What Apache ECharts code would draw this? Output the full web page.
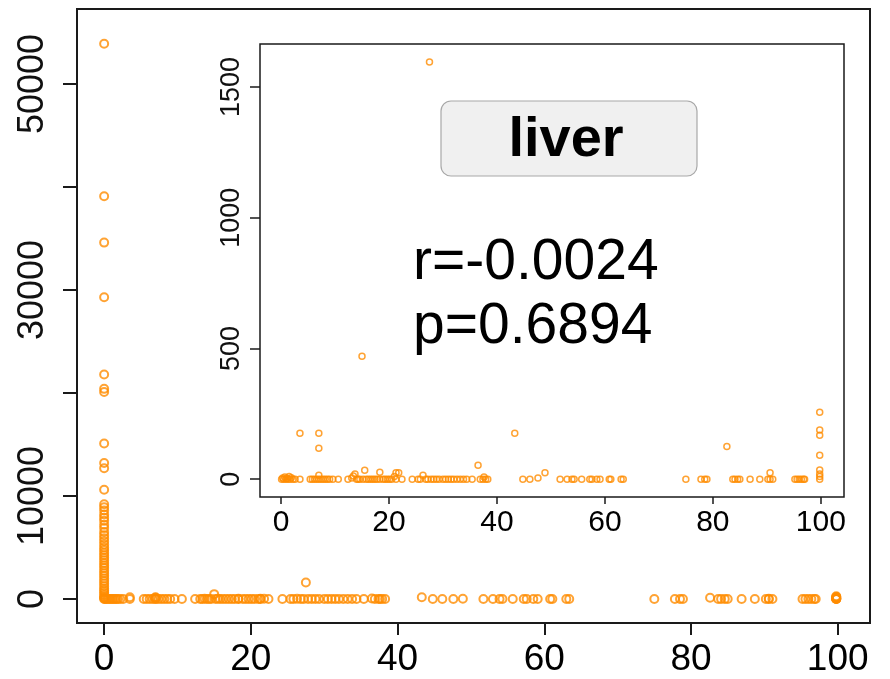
<!DOCTYPE html>
<html>
<head>
<meta charset="utf-8">
<script src="https://cdn.jsdelivr.net/npm/echarts@6/dist/echarts.min.js"></script>
<style>
  html, body { margin: 0; padding: 0; background: #fff; }
  #chart { width: 890px; height: 679px; }
</style>
</head>
<body>
<div id="chart"></div>
<script>
// label + correlation stats
const tissue = 'liver'
const statR = 'r=-0.0024'
const statP = 'p=0.6894'

// ticks
const mainXTicks = [0, 20, 40, 60, 80, 100]
const mainYTicks = [0, 10000, 20000, 30000, 40000, 50000]
const mainYLabels = [0, 10000, 30000, 50000]
const insetXTicks = [0, 20, 40, 60, 80, 100]
const insetYTicks = [0, 500, 1000, 1500]

// main plot only: values stacked at x = 0
const zeroColumnY = [
  53900, 39100, 34600, 29300, 21800, 20400, 20100, 15100, 13200, 12700, 10600,
  9200, 8900, 8600, 8200, 7900, 7600, 7200, 6900, 6500, 6200, 5900, 5600, 5300,
  5000, 4750, 4500, 4250, 4000, 3750, 3500, 3250, 3000, 2750, 2500, 2250, 2000,
  1750, 1500, 1250, 1000, 800, 600, 400, 200, 100, 0
]

// low values, shown in both plots  [x, y]
const lowPoints = [
  [0.1, 0], [0.3, 5], [0.5, 0], [0.7, 8], [0.9, 0], [1.1, 4], [1.3, 0], [1.5, 10],
  [1.7, 0], [1.9, 6], [2.2, 0], [2.6, 0],
  [3.5, 0], [3.5, 176],
  [5.4, 0], [5.8, 0], [6.2, 0], [6.6, 0], [7.0, 0], [7.0, 15], [7.0, 118], [7.0, 176],
  [7.4, 0], [7.8, 0], [8.2, 0], [8.6, 0], [9.0, 0], [9.6, 0],
  [10.6, 0], [12.4, 0],
  [13.1, 5], [13.4, 12], [13.7, 20], [14.0, 0], [14.3, 0], [14.6, 0], [15.0, 470],
  [15.2, 0], [15.5, 34], [15.8, 0], [16.2, 0], [16.6, 0], [17.0, 0], [17.4, 0],
  [17.8, 0], [18.3, 27], [18.3, 0],
  [18.9, 0], [19.3, 0], [19.7, 0], [20.1, 0], [20.5, 0], [21.0, 10], [21.3, 25],
  [21.3, 0], [21.8, 25], [22.4, 0],
  [24.3, 0],
  [25.4, 0], [25.8, 0], [26.3, 15], [26.8, 0], [27.2, 0], [27.5, 1595], [27.8, 0],
  [28.3, 0], [28.8, 0], [29.3, 0], [30.0, 0], [30.5, 0], [31.0, 0], [31.5, 0],
  [32.0, 0], [32.6, 0], [33.2, 0], [33.8, 0], [34.4, 0],
  [35.4, 0],
  [36.5, 53], [36.9, 0], [37.4, 0], [37.6, 8], [37.9, 0], [38.3, 0],
  [43.3, 176],
  [44.8, 0], [46.1, 0], [47.6, 5], [48.9, 25],
  [51.7, 0], [53.0, 0], [53.9, 0], [54.3, 0], [55.7, 0], [57.2, 0], [57.6, 0],
  [58.5, 0], [59.1, 0], [60.8, 0], [61.1, 0], [63.0, 0], [63.4, 0],
  [75.0, 0],
  [77.8, 0], [78.5, 0], [78.9, 0],
  [82.6, 125],
  [83.7, 0], [84.1, 0], [84.6, 0], [85.0, 0],
  [86.9, 0], [88.7, 0],
  [90.2, 0], [90.6, 0], [90.6, 25], [91.1, 0],
  [95.2, 0], [95.6, 0], [96.0, 0], [96.4, 0], [96.8, 0], [97.0, 0],
  [99.8, 0], [99.8, 10], [99.8, 20], [99.8, 35], [99.8, 92], [99.8, 168], [99.8, 188], [99.8, 256]
]

const orange = '#ff8c00'
const axisColor = '#1a1a1a'
const sansFont = '"Liberation Sans", Arial, sans-serif'

let myChart = echarts.init(document.getElementById('chart'))

let mainData = zeroColumnY.map((y) => [0, y]).concat(lowPoints)
// plain numbers, no thousands separator
const plain = (val) => String(val)

let option = {
  animation: false,
  backgroundColor: '#fff',
  grid: [
    // main
    { left: 77, top: 9, width: 793, height: 614, show: true, borderColor: axisColor, borderWidth: 2, backgroundColor: '#fff' },
    // inset
    { left: 260, top: 44, width: 584, height: 453, show: true, borderColor: axisColor, borderWidth: 1.5, backgroundColor: '#fff', z: 3 }
  ],
  xAxis: [
    {
      type: 'value',
      gridIndex: 0,
      min: -3.7,
      max: 104.4,
      axisLine: { show: false, onZero: false },
      splitLine: { show: false },
      axisTick: { customValues: mainXTicks, length: 12, lineStyle: { color: axisColor, width: 2 } },
      axisLabel: { customValues: mainXTicks, formatter: plain, fontSize: 37, fontFamily: sansFont, color: '#000', margin: 18 }
    },
    {
      type: 'value',
      gridIndex: 1,
      min: -3.9,
      max: 104.3,
      z: 4,
      axisLine: { show: false, onZero: false },
      splitLine: { show: false },
      axisTick: { customValues: insetXTicks, length: 7, lineStyle: { color: axisColor, width: 1.5 } },
      axisLabel: { customValues: insetXTicks, formatter: plain, fontSize: 30, fontFamily: sansFont, color: '#000', margin: 11 }
    }
  ],
  yAxis: [
    {
      type: 'value',
      gridIndex: 0,
      min: -2330,
      max: 57280,
      axisLine: { show: false, onZero: false },
      splitLine: { show: false },
      axisTick: { customValues: mainYTicks, length: 14, lineStyle: { color: axisColor, width: 2 } },
      axisLabel: { customValues: mainYLabels, formatter: plain, rotate: 90, fontSize: 36, fontFamily: sansFont, color: '#111', margin: 26 }
    },
    {
      type: 'value',
      gridIndex: 1,
      min: -68,
      max: 1664,
      z: 4,
      axisLine: { show: false, onZero: false },
      splitLine: { show: false },
      axisTick: { customValues: insetYTicks, length: 10, lineStyle: { color: axisColor, width: 1.5 } },
      axisLabel: { customValues: insetYTicks, formatter: plain, rotate: 90, fontSize: 27, fontFamily: sansFont, color: '#111', margin: 15 }
    }
  ],
  series: [
    {
      type: 'scatter',
      xAxisIndex: 0,
      yAxisIndex: 0,
      data: mainData,
      symbol: 'circle',
      symbolSize: 8,
      silent: true,
      itemStyle: { color: 'rgba(0,0,0,0)', borderColor: orange, borderWidth: 2 }
    },
    {
      type: 'scatter',
      xAxisIndex: 1,
      yAxisIndex: 1,
      data: lowPoints,
      symbol: 'circle',
      symbolSize: 6,
      silent: true,
      z: 5,
      itemStyle: { color: 'rgba(0,0,0,0)', borderColor: orange, borderWidth: 1.5 }
    }
  ],
  graphic: [
    {
      type: 'rect',
      z: 10,
      shape: { x: 441, y: 101, width: 256, height: 75, r: 10 },
      style: { fill: '#f0f0f0', stroke: '#a8a8a8', lineWidth: 1.2 }
    },
    {
      type: 'text',
      z: 11,
      x: 566,
      y: 141,
      style: { text: tissue, font: 'bold 56px ' + sansFont, fill: '#000', align: 'center', verticalAlign: 'middle' }
    },
    {
      type: 'text',
      z: 11,
      x: 413,
      y: 231,
      style: { text: statR + '\n' + statP, font: '57px ' + sansFont, lineHeight: 64, fill: '#000', align: 'left', verticalAlign: 'top' }
    }
  ]
}

myChart.setOption(option)
</script>
</body>
</html>
